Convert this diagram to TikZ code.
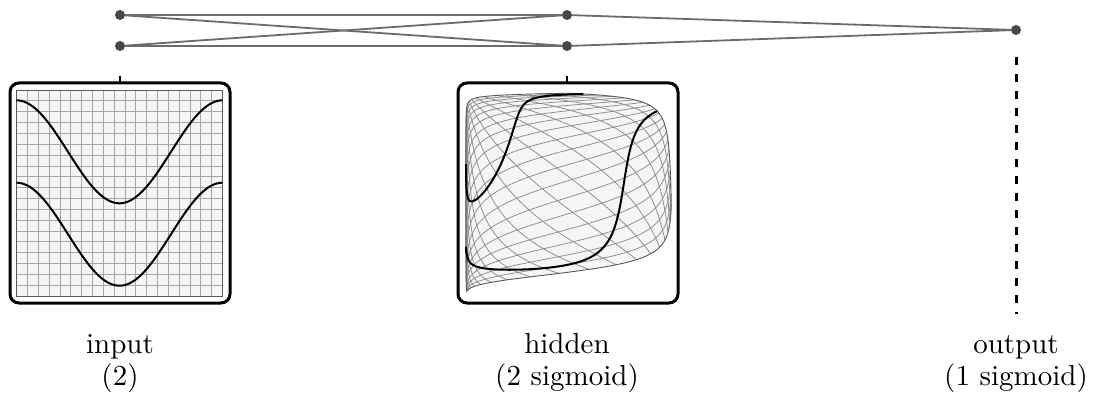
\documentclass[tikz,border=0pt]{standalone}
\usepackage{graphicx}
\begin{document}
\begin{tikzpicture}[x=1pt,y=-1pt,
  declare function={
    sig(\tt)=1/(1+exp(-max(-9,min(9,\tt))));
    hx(\aa,\bb)=466+206*sig(11.2*\aa-5.7*\bb-5.5);
    hy(\aa,\bb)=296-206*sig(3.5*\aa+4.4*\bb-3.75);
    cx(\aa)=16.5+206*\aa;
    cy(\bb)=296-206*\bb;
  },
  neuron/.style={circle,fill=black!72,inner sep=0pt,minimum size=10pt},
  conn/.style={draw=black!58,line width=1.8pt},
  tick/.style={draw=black,line width=1.6pt},
  frame/.style={draw=black,line width=3pt,rounded corners=9pt},
  gridline/.style={draw=black!35,line width=0.7pt},
  hgridline/.style={draw=black!45,line width=0.75pt},
  edgeline/.style={draw=black!65,line width=0.9pt},
  curve/.style={draw=black,line width=2pt},
  panelfill/.style={fill=blue!3!black!4},
  lbl/.style={inner sep=0pt,anchor=base},
  outdash/.style={draw=black,line width=3pt,dash pattern=on 8pt off 9pt},
]
\useasboundingbox (0,0) rectangle (1102,406);

% network
\node[neuron] (i1) at (120,15) {};
\node[neuron] (i2) at (120,46) {};
\node[neuron] (h1) at (567,15) {};
\node[neuron] (h2) at (567,46) {};
\node[neuron] (o) at (1016,30) {};
\draw[conn] (i1) -- (h1);
\draw[conn] (i1) -- (h2);
\draw[conn] (i2) -- (h1);
\draw[conn] (i2) -- (h2);
\draw[conn] (h1) -- (o);
\draw[conn] (h2) -- (o);

% ticks and output dashed line
\coordinate (ti) at (120,76);
\coordinate (tib) at (120,83);
\coordinate (th) at (567,76);
\coordinate (thb) at (567,83);
\coordinate (od1) at (1016.5,57);
\coordinate (od2) at (1016.5,314);
\draw[tick] (ti) -- (tib);
\draw[tick] (th) -- (thb);
\draw[outdash] (od1) -- (od2);

% input panel
\fill[panelfill] (16.5,90) rectangle (222.5,296);
\foreach \i in {1,...,18}{
  \pgfmathsetmacro\cc{16.5+206*\i/19}
  \draw[gridline] (\cc,90) -- (\cc,296);
  \pgfmathsetmacro\rr{90+206*\i/19}
  \draw[gridline] (16.5,\rr) -- (222.5,\rr);
}
\draw[edgeline] (16.5,90) rectangle (222.5,296);
\draw[curve] plot[variable=\t,domain=0:1,samples=80,smooth] ({cx(\t)},{cy(0.7+0.25*cos(360*\t))});
\draw[curve] plot[variable=\t,domain=0:1,samples=80,smooth] ({cx(\t)},{cy(0.3+0.25*cos(360*\t))});
\draw[frame] (10,83) rectangle (230,303);

% hidden panel
\fill[panelfill]
  plot[variable=\t,domain=0:1,samples=60] ({hx(\t,0)},{hy(\t,0)})
  -- plot[variable=\t,domain=0:1,samples=60] ({hx(1,\t)},{hy(1,\t)})
  -- plot[variable=\t,domain=1:0,samples=80] ({hx(\t,1)},{hy(\t,1)})
  -- plot[variable=\t,domain=1:0,samples=60] ({hx(0,\t)},{hy(0,\t)}) -- cycle;
\foreach \i in {1,...,18}{
  \pgfmathsetmacro\cc{\i/19}
  \draw[hgridline] plot[variable=\t,domain=0:1,samples=50,smooth] ({hx(\cc,\t)},{hy(\cc,\t)});
  \draw[hgridline] plot[variable=\t,domain=0:1,samples=50,smooth] ({hx(\t,\cc)},{hy(\t,\cc)});
}
\draw[edgeline]
  plot[variable=\t,domain=0:1,samples=60,smooth] ({hx(\t,0)},{hy(\t,0)})
  -- plot[variable=\t,domain=0:1,samples=60,smooth] ({hx(1,\t)},{hy(1,\t)})
  -- plot[variable=\t,domain=1:0,samples=80,smooth] ({hx(\t,1)},{hy(\t,1)})
  -- plot[variable=\t,domain=1:0,samples=60,smooth] ({hx(0,\t)},{hy(0,\t)}) -- cycle;
\draw[curve] plot[variable=\t,domain=0:1,samples=90,smooth] ({hx(\t,0.7+0.25*cos(360*\t))},{hy(\t,0.7+0.25*cos(360*\t))});
\draw[curve] plot[variable=\t,domain=0:1,samples=90,smooth] ({hx(\t,0.3+0.25*cos(360*\t))},{hy(\t,0.3+0.25*cos(360*\t))});
\draw[frame] (458,83) rectangle (678,303);

% labels
\node[lbl] (l1a) at (120,353) {\scalebox{2.9}{\fontsize{10}{12}\selectfont input}};
\node[lbl] (l1b) at (120,385) {\scalebox{2.9}{\fontsize{10}{12}\selectfont (2)}};
\node[lbl] (l2a) at (567,353) {\scalebox{2.9}{\fontsize{10}{12}\selectfont hidden}};
\node[lbl] (l2b) at (567,385) {\scalebox{2.9}{\fontsize{10}{12}\selectfont (2 sigmoid)}};
\node[lbl] (l3a) at (1016,353) {\scalebox{2.9}{\fontsize{10}{12}\selectfont output}};
\node[lbl] (l3b) at (1016,385) {\scalebox{2.9}{\fontsize{10}{12}\selectfont (1 sigmoid)}};
\end{tikzpicture}
\end{document}
